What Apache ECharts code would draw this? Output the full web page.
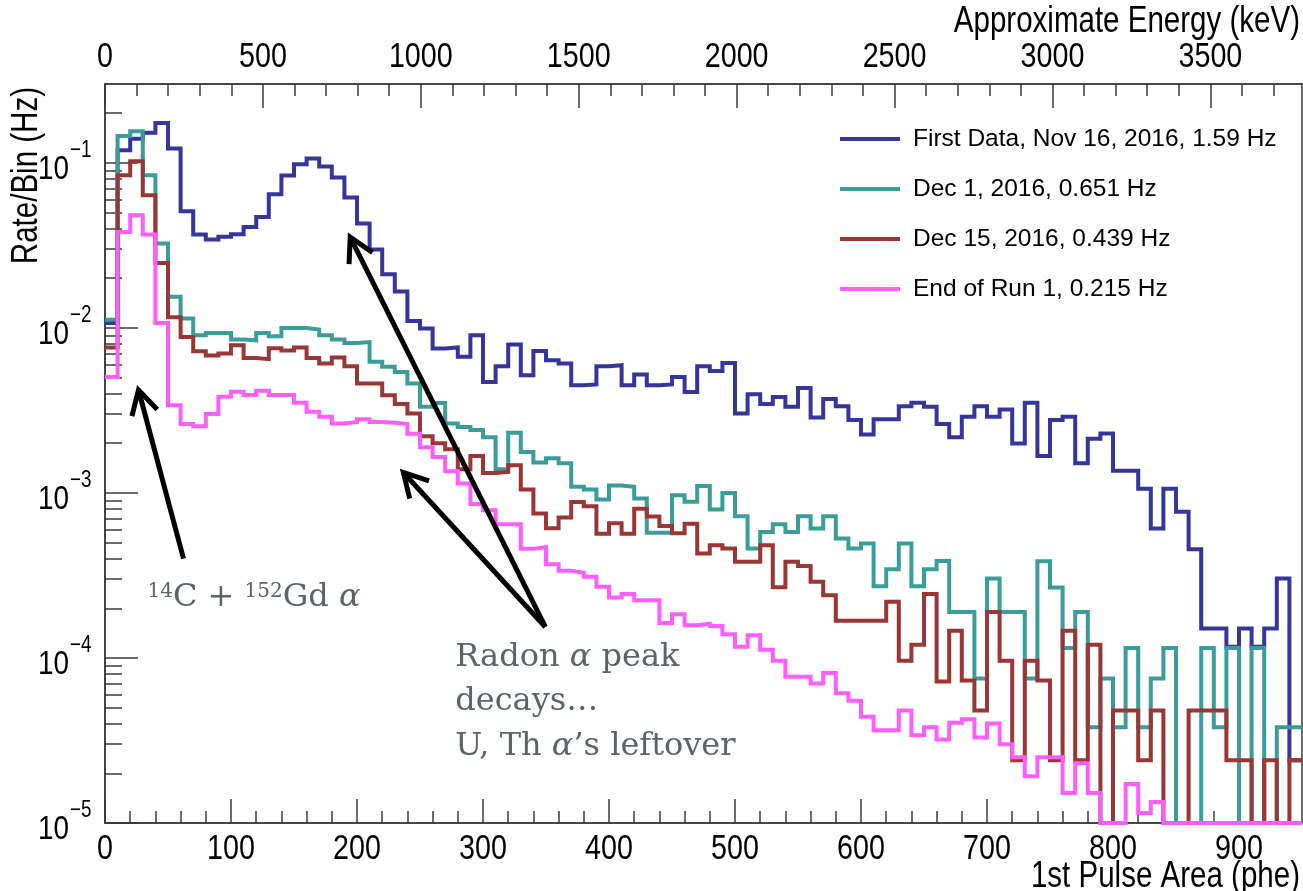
<!DOCTYPE html>
<html><head><meta charset="utf-8">
<script src="https://cdn.jsdelivr.net/npm/echarts@6/dist/echarts.min.js"></script>
<style>html,body{margin:0;padding:0;background:#fff}#chart{width:1303px;height:891px}</style>
</head><body><div id="chart"></div>
<script>
// ---------------- data ----------------
const BIN_WIDTH = 10;          // phe per bin
const X_MAX = 950;             // phe
const Y_MIN = 1e-5, Y_MAX = 0.3;
const ENERGY_MAX = 3790;       // keV at X_MAX

const seriesNames = [
  'First Data, Nov 16, 2016, 1.59 Hz',
  'Dec 1, 2016, 0.651 Hz',
  'Dec 15, 2016, 0.439 Hz',
  'End of Run 1, 0.215 Hz'
];

const nov16 = [
  0.0107,0.119,0.140,0.152,0.174,0.122,0.0508,0.0367,0.0343,0.0356,
  0.0369,0.0408,0.047,0.0644,0.0836,0.098,0.106,0.095,0.0814,0.0615,
  0.0428,0.0298,0.0211,0.0166,0.011,0.0099,0.0075,0.0076,0.00667,0.0090,
  0.0047,0.00585,0.00792,0.00516,0.00724,0.00637,0.00608,0.00449,0.00454,0.00585,
  0.00593,0.00449,0.00521,0.00449,0.00454,0.00504,0.00409,0.00585,0.00548,0.00612,
  0.00303,0.00396,0.00345,0.00381,0.00332,0.00432,0.00286,0.0037,0.00335,0.00276,
  0.00226,0.00279,0.00279,0.00335,0.00351,0.00332,0.00261,0.00217,0.00289,0.00335,
  0.00289,0.0032,0.00199,0.00351,0.00167,0.00276,0.00289,0.00151,0.00213,0.00229,
  0.00136,0.00136,0.00106,0.000608,0.00106,0.000768,0.000456,0.000151,0.000151,0.000117,
  0.000151,0.000117,0.000151,0.000303,0.000024
];
const dec1 = [
  0.0112,0.145,0.155,0.084,0.0324,0.0154,0.0114,0.0090,0.0093,0.0093,
  0.0085,0.0084,0.0093,0.00889,0.00998,0.00998,0.00977,0.0090,0.0085,0.0081,
  0.0082,0.00622,0.0058,0.0054,0.0046,0.00332,0.0035,0.00263,0.00251,0.0024,
  0.00217,0.00139,0.00231,0.00177,0.00153,0.00162,0.00151,0.00109,0.00105,0.000912,
  0.00111,0.00109,0.000925,0.000573,0.000573,0.000969,0.000883,0.0011,0.000793,0.001,
  0.000723,0.000461,0.00058,0.000646,0.00058,0.000723,0.000608,0.000723,0.00053,0.000461,
  0.000494,0.000272,0.000344,0.000494,0.000272,0.000344,0.000387,0.00019,0.00019,0.000075,
  0.000303,0.00019,0.00019,0.000075,0.000385,0.000267,0.000115,0.00019,0.000038,0.000075,
  0.000038,0.000115,0.000038,0.000075,0.000115,0,0,0.000115,0.000038,0.000115,
  0,0.000115,0,0.000038,0.000038
];
const dec15 = [
  0.0076,0.084,0.102,0.0636,0.0247,0.0116,0.0088,0.0072,0.0068,0.0070,
  0.00785,0.00657,0.00646,0.00752,0.0073,0.0076,0.00657,0.00608,0.0066,0.00585,
  0.0046,0.0046,0.0039,0.00345,0.00303,0.0022,0.0020,0.00184,0.00139,0.00167,
  0.00132,0.00134,0.00147,0.00105,0.00075,0.00061,0.00071,0.00088,0.00083,0.000565,
  0.000655,0.000565,0.0008,0.00072,0.00063,0.00057,0.00065,0.00043,0.000482,0.00046,
  0.000382,0.000382,0.000482,0.000268,0.000382,0.00036,0.000289,0.00024,0.000168,0.000168,
  0.000168,0.000168,0.000219,0.000096,0.00012,0.000244,0.000072,0.000146,0.000073,0.000048,
  0.00019,0.000096,0.000024,0.000096,0.000073,0.000024,0.000146,0.000024,0.00012,0,
  0.000048,0.000048,0.000024,0.000048,0,0,0.000048,0.000048,0.000048,0.000024,
  0.000024,0,0.000024,0,0.000024
];
const endRun1 = [
  0.00504,0.0381,0.0481,0.0367,0.0107,0.0034,0.00261,0.00253,0.0030,0.00382,
  0.0041,0.00392,0.00415,0.00392,0.00392,0.00351,0.0031,0.00289,0.00263,0.00269,
  0.00279,0.00269,0.00266,0.00261,0.00228,0.00189,0.00165,0.00135,0.00114,0.000855,
  0.000785,0.000646,0.000646,0.000458,0.00047,0.00037,0.000337,0.000328,0.00031,0.00027,
  0.000232,0.000244,0.000224,0.000224,0.000163,0.000184,0.000158,0.000161,0.000156,0.000139,
  0.000117,0.000137,0.000112,0.000096,0.000077,0.000077,0.00007,0.000081,0.000061,0.000055,
  0.000044,0.0000365,0.0000365,0.000048,0.000034,0.000038,0.000032,0.0000405,0.0000425,0.000033,
  0.00004,0.00003,0.000025,0.0000192,0.000025,0.000025,0.0000152,0.000023,0.0000152,0,
  0,0.0000172,0.0000115,0.0000134,0,0,0,0,0,0,
  0,0,0,0,0
];

const xTickValues = [0,100,200,300,400,500,600,700,800,900];
const energyTickValues = [0,500,1000,1500,2000,2500,3000,3500];
const yTickValues = [1e-5,1e-4,1e-3,1e-2,1e-1];

// ---------------- style ----------------
const seriesColors = ['#35359b','#3b9d99','#9b3636','#ff5eff'];
const SANS = "'Liberation Sans',Arial,Helvetica,sans-serif";
const SERIF = "'DejaVu Serif','Liberation Serif',serif";
const AXIS_COLOR = '#3a3a3a';
const NOTE_COLOR = '#5c6468';
const CONDENSE = 0.82;   // ROOT axis text appears horizontally condensed

function minorTicks(step, max, major) {
  const out = [];
  for (let v = step; v < max; v += step) if (Math.round(v) % major !== 0) out.push(v);
  return out;
}
function logMinorTicks() {
  const out = [];
  for (let e = -5; e <= -1; e++) for (let m = 2; m <= 9; m++) {
    const v = m * Math.pow(10, e);
    if (v <= Y_MAX * 1.0001) out.push(v);
  }
  return out;
}
function histData(vals) {
  const out = vals.map((v, i) => [i * BIN_WIDTH, Math.max(v, Y_MIN)]);
  out.push([vals.length * BIN_WIDTH, Math.max(vals[vals.length - 1], Y_MIN)]);
  return out;
}

const chart = echarts.init(document.getElementById('chart'), null, {renderer: 'canvas'});

const tickStyle = {color: AXIS_COLOR, width: 1.5};
const option = {
  animation: false,
  backgroundColor: '#fff',
  grid: {left: 105, right: 1, top: 84, bottom: 68, show: true, borderColor: AXIS_COLOR, borderWidth: 1.5, backgroundColor: 'transparent'},
  legend: {
    orient: 'vertical', left: 835, top: 120, itemWidth: 60, itemHeight: 4, itemGap: 22,
    icon: 'rect',
    textStyle: {fontFamily: SANS, fontSize: 24.5, color: '#000', lineHeight: 28, padding: [0, 0, 0, 8]},
    data: seriesNames
  },
  xAxis: [
    {type: 'value', min: 0, max: X_MAX, position: 'bottom', splitLine: {show: false},
      axisLine: {show: true, onZero: false, lineStyle: tickStyle},
      axisTick: {show: true, inside: true, length: 24, customValues: xTickValues, lineStyle: tickStyle},
      axisLabel: {show: false}},
    {type: 'value', min: 0, max: X_MAX, position: 'bottom', splitLine: {show: false},
      axisLine: {show: false, onZero: false},
      axisTick: {show: true, inside: true, length: 12, customValues: minorTicks(20, X_MAX, 100), lineStyle: tickStyle},
      axisLabel: {show: false}},
    {type: 'value', min: 0, max: ENERGY_MAX, position: 'top', splitLine: {show: false},
      axisLine: {show: true, onZero: false, lineStyle: tickStyle},
      axisTick: {show: true, inside: true, length: 24, customValues: energyTickValues, lineStyle: tickStyle},
      axisLabel: {show: false}},
    {type: 'value', min: 0, max: ENERGY_MAX, position: 'top', splitLine: {show: false},
      axisLine: {show: false, onZero: false},
      axisTick: {show: true, inside: true, length: 12, customValues: minorTicks(100, ENERGY_MAX, 500), lineStyle: tickStyle},
      axisLabel: {show: false}}
  ],
  yAxis: [
    {type: 'log', min: Y_MIN, max: Y_MAX, logBase: 10, position: 'left', splitLine: {show: false},
      axisLine: {show: true, onZero: false, lineStyle: tickStyle},
      axisTick: {show: true, inside: true, length: 33, customValues: yTickValues, lineStyle: tickStyle},
      axisLabel: {show: false}},
    {type: 'log', min: Y_MIN, max: Y_MAX, logBase: 10, position: 'left', splitLine: {show: false},
      axisLine: {show: false, onZero: false},
      axisTick: {show: true, inside: true, length: 17, customValues: logMinorTicks(), lineStyle: tickStyle},
      axisLabel: {show: false}}
  ],
  series: [nov16, dec1, dec15, endRun1].map((vals, i) => ({
    name: seriesNames[i],
    type: 'line',
    step: 'end',
    xAxisIndex: 0, yAxisIndex: 0,
    showSymbol: false, symbol: 'none',
    clip: false,
    color: seriesColors[i],
    lineStyle: {color: seriesColors[i], width: 4, join: 'miter'},
    data: histData(vals),
    z: 2 + i
  }))
};
chart.setOption(option);

// ---------------- text and annotations (anchored through the axes) ----------------
const toPx = p => chart.convertToPixel({xAxisIndex: 0, yAxisIndex: 0}, p);
const xPx = v => chart.convertToPixel({xAxisIndex: 0}, v);
const ePx = v => chart.convertToPixel({xAxisIndex: 2}, v);
const yPx = v => chart.convertToPixel({yAxisIndex: 0}, v);
const bottomY = yPx(Y_MIN), topY = yPx(Y_MAX), leftX = xPx(0), rightX = xPx(X_MAX);

const graphics = [];
function axisText(text, x, y, align, size, extra) {
  return Object.assign({type: 'text', x: x, y: y, scaleX: CONDENSE, z: 100,
    style: {text: text, fontFamily: SANS, fontSize: size, fill: '#000', align: align, verticalAlign: 'middle'}}, extra || {});
}
xTickValues.forEach(v => graphics.push(axisText(String(v), xPx(v), bottomY + 26, 'center', 35)));
energyTickValues.forEach(v => graphics.push(axisText(String(v), ePx(v), topY - 27, 'center', 35)));
yTickValues.forEach(v => {
  const e = Math.round(Math.log10(v));
  const y = yPx(v);
  graphics.push(axisText('10', leftX - 36, y + 7, 'right', 34));
  graphics.push(axisText((e < 0 ? '\u2212' : '') + Math.abs(e), leftX - 35, y - 12, 'left', 23));
});
graphics.push(axisText('Approximate Energy (keV)', rightX - 2, topY - 62, 'right', 36));
graphics.push(axisText('1st Pulse Area (phe)', rightX - 2, bottomY + 54, 'right', 36));
graphics.push(axisText('Rate/Bin (Hz)', 27, topY + 3, 'right', 36, {rotation: Math.PI / 2}));

const arrows = [
  {tail: [62.3, 4.0e-4], tip: [26.6, 4.2e-3]},
  {tail: [349.5, 1.54e-4], tip: [194.6, 0.0354]},
  {tail: [349.5, 1.54e-4], tip: [236.8, 1.33e-3]}
];
const notes = [
  {at: [33.7, 2.33e-4], rich: '{sup|14}{t|C + }{sup|152}{t|Gd }{it|\u03b1}'},
  {at: [278, 1.0e-4], rich: '{t|Radon }{it|\u03b1}{t| peak}'},
  {at: [278, 5.4e-5], rich: '{t|decays\u2026}'},
  {at: [278, 2.9e-5], rich: '{t|U, Th }{it|\u03b1}{t|\u2019s leftover}'}
];
arrows.forEach(a => {
  const t = toPx(a.tip), s = toPx(a.tail);
  const dx = s[0] - t[0], dy = s[1] - t[1], len = Math.hypot(dx, dy);
  const ux = dx / len, uy = dy / len, L = 27, th = 29 * Math.PI / 180;
  const w = sgn => [t[0] + L * (ux * Math.cos(sgn * th) - uy * Math.sin(sgn * th)),
                    t[1] + L * (ux * Math.sin(sgn * th) + uy * Math.cos(sgn * th))];
  graphics.push({type: 'line', shape: {x1: s[0], y1: s[1], x2: t[0], y2: t[1]}, style: {stroke: '#000', lineWidth: 5}, z: 100});
  graphics.push({type: 'polyline', shape: {points: [w(1), t, w(-1)]}, style: {stroke: '#000', lineWidth: 5, fill: null, lineJoin: 'miter'}, z: 100});
});
const noteRich = {
  t: {fontFamily: SERIF, fontSize: 32, fill: NOTE_COLOR},
  it: {fontFamily: SERIF, fontSize: 32, fontStyle: 'italic', fill: NOTE_COLOR},
  sup: {fontFamily: SERIF, fontSize: 20, fill: NOTE_COLOR, verticalAlign: 'top'}
};
notes.forEach(n => {
  const p = toPx(n.at);
  graphics.push({type: 'text', x: p[0], y: p[1], z: 100,
    style: {text: n.rich, rich: noteRich, align: 'left', verticalAlign: 'middle', fill: NOTE_COLOR}});
});
chart.setOption({graphic: graphics});
</script></body></html>
